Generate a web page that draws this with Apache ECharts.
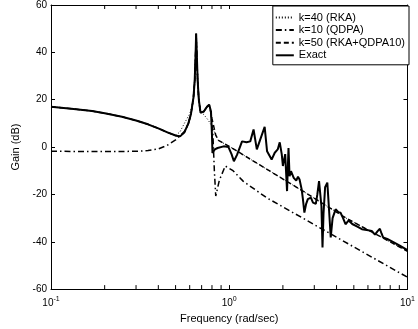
<!DOCTYPE html>
<html>
<head>
<meta charset="utf-8">
<script src="https://cdn.jsdelivr.net/npm/echarts@6/dist/echarts.min.js"></script>
<style>
  html, body { margin: 0; padding: 0; background: #fff; }
  #chart { width: 418px; height: 329px; }
</style>
</head>
<body>
<div id="chart"></div>
<script>
// Bode magnitude of the model and its reduced-order approximations: [frequency (rad/sec), gain (dB)]
const seriesNames = ['k=40 (RKA)', 'k=10 (QDPA)', 'k=50 (RKA+QDPA10)', 'Exact'];

const exactGain = [
  [0.1, 17], [0.13, 16.2], [0.17, 15.2], [0.2, 14.3], [0.25, 12.8], [0.3, 11.2],
  [0.35, 9.6], [0.4, 7.9], [0.45, 6.2], [0.5, 4.9], [0.53, 4.5], [0.56, 6.2],
  [0.59, 10], [0.61, 14], [0.63, 21], [0.64, 28], [0.648, 40], [0.652, 48],
  [0.657, 40], [0.665, 28], [0.675, 20], [0.69, 14.5], [0.72, 15], [0.75, 17],
  [0.772, 17.9], [0.79, 15], [0.8, 5], [0.805, -2.5], [0.83, -1], [0.86, -0.4],
  [0.93, 0.3], [0.99, 0], [1.03, -3], [1.062, -6], [1.107, -3.2], [1.18, 2.4],
  [1.25, 2], [1.312, 2.4], [1.369, 7.4], [1.428, -1], [1.49, 3], [1.58, 8.5],
  [1.63, -1.8], [1.729, -5.3], [1.8, -2.4], [1.87, -1], [1.92, 2], [1.97, -3],
  [2.0, -8], [2.06, -3], [2.11, -18.6], [2.15, -0.4], [2.18, -12.3], [2.22, -10.2],
  [2.3, -13], [2.376, -14.2], [2.43, -12.5], [2.48, -13.7], [2.55, -18], [2.59, -22],
  [2.64, -27.7], [2.7, -24], [2.76, -22], [2.81, -22.8], [2.87, -21.4], [2.95, -23.5],
  [3.06, -24], [3.12, -20], [3.19, -14.4], [3.25, -14], [3.29, -25], [3.336, -42.4],
  [3.38, -28], [3.45, -17], [3.55, -15], [3.62, -25], [3.71, -38.2], [3.8, -30],
  [3.95, -26.3], [4.1, -27.5], [4.21, -27.7], [4.35, -30], [4.49, -32.6], [4.68, -31],
  [4.9, -32.5], [5.2, -33.5], [5.55, -34.7], [5.9, -35], [6.3, -35.4], [6.57, -37],
  [6.8, -35.5], [7.0, -34.5], [7.15, -36.5], [7.3, -38.2], [7.7, -38.8], [8.13, -39.7],
  [9.0, -41.5], [10, -43.5]
];

const rkaGain = [
  [0.1, 17], [0.13, 16.2], [0.17, 15.2], [0.2, 14.3], [0.25, 12.8], [0.3, 11.2],
  [0.35, 9.6], [0.4, 7.9], [0.45, 6.2], [0.5, 4.8], [0.53, 6.5], [0.56, 10],
  [0.6, 14], [0.63, 19], [0.645, 35], [0.652, 48], [0.66, 35], [0.67, 22],
  [0.69, 15], [0.72, 13.7], [0.76, 11.5], [0.8, 8.8], [0.84, 5], [0.87, 2.8],
  [1.0, 0.3], [1.62, -9.3], [2.68, -19.3], [4.52, -30], [10, -44]
];

const qdpaGain = [
  [0.1, -1.8], [0.2, -1.9], [0.3, -1.8], [0.35, -1.5], [0.4, -0.8], [0.45, 0.8],
  [0.5, 3], [0.53, 4.8], [0.56, 6.5], [0.59, 10], [0.61, 14], [0.63, 21],
  [0.64, 28], [0.648, 40], [0.652, 48], [0.657, 40], [0.665, 28], [0.675, 20],
  [0.69, 14.5], [0.72, 15], [0.75, 17], [0.772, 17.9], [0.79, 14], [0.81, 5],
  [0.825, -10], [0.84, -20.7], [0.88, -14], [0.95, -8], [1.05, -10], [1.2, -14.5],
  [1.62, -21.4], [10, -55]
];

const hybridGain = [
  [0.1, 17], [0.13, 16.2], [0.17, 15.2], [0.2, 14.3], [0.25, 12.8], [0.3, 11.2],
  [0.35, 9.6], [0.4, 7.9], [0.45, 6.2], [0.5, 4.9], [0.53, 4.5], [0.56, 6.2],
  [0.59, 10], [0.61, 14], [0.63, 21], [0.64, 28], [0.648, 40], [0.652, 48],
  [0.657, 40], [0.665, 28], [0.675, 20], [0.69, 14.5], [0.72, 15], [0.75, 17],
  [0.772, 17.9], [0.8, 12], [0.84, 5], [0.87, 2.8], [1.0, 0.3], [1.62, -9.3],
  [2.68, -19.3], [4.52, -30], [10, -44]
];

// Log-axis minor tick positions (2..9 within each decade)
const minorTicks = [0.2, 0.3, 0.4, 0.5, 0.6, 0.7, 0.8, 0.9, 2, 3, 4, 5, 6, 7, 8, 9];
const xTickLabels = { '0.1': '{b|10}{s|-1}', '1': '{b|10}{s|0}', '10': '{b|10}{s|1}' };

const chart = echarts.init(document.getElementById('chart'), null, { renderer: 'canvas' });
const font = 'Liberation Sans, Arial, Helvetica, sans-serif';
const tickLen = 4;

const superRich = {
  b: { fontSize: 10, lineHeight: 16, fontFamily: font, color: '#000' },
  s: { fontSize: 7, lineHeight: 8, verticalAlign: 'top', fontFamily: font, color: '#000' }
};

function lineSeries(name, data, width, type) {
  return {
    name, type: 'line', data,
    xAxisIndex: 0, yAxisIndex: 0,
    showSymbol: false, symbol: 'none',
    lineStyle: { color: '#000', width, type },
    itemStyle: { color: '#000' },
    clip: true
  };
}

chart.setOption({
  animation: false,
  backgroundColor: '#fff',
  textStyle: { fontFamily: font },
  grid: { left: 51, right: 5, top: 5, bottom: 39, containLabel: false },
  legend: {
    data: seriesNames,
    orient: 'vertical',
    right: 9, top: 6,
    itemWidth: 18, itemHeight: 11, itemGap: 1.6,
    padding: [6, 4, 4, 2],
    borderColor: '#000', borderWidth: 1, backgroundColor: '#fff',
    itemStyle: { opacity: 0 },
    textStyle: { fontSize: 11, color: '#000', fontFamily: font },
    selectedMode: false
  },
  xAxis: [
    {
      type: 'log', logBase: 10, min: 0.1, max: 10,
      position: 'bottom',
      name: 'Frequency (rad/sec)', nameLocation: 'middle', nameGap: 19,
      nameTextStyle: { fontSize: 11, color: '#000', fontFamily: font },
      axisLine: { onZero: false, lineStyle: { color: '#000', width: 1 } },
      axisTick: { inside: true, length: tickLen, lineStyle: { color: '#000' } },
      axisLabel: {
        margin: 6, color: '#000',
        formatter: v => xTickLabels[String(+v.toPrecision(3))] || '',
        rich: superRich
      },
      splitLine: { show: false }
    },
    {
      type: 'log', logBase: 10, min: 0.1, max: 10,
      position: 'top',
      axisLine: { onZero: false, lineStyle: { color: '#000', width: 1 } },
      axisTick: { inside: true, length: tickLen, lineStyle: { color: '#000' } },
      axisLabel: { show: false },
      splitLine: { show: false }
    }
  ],
  yAxis: [
    {
      type: 'value', min: -60, max: 60, interval: 20,
      position: 'left',
      name: 'Gain (dB)', nameLocation: 'middle', nameGap: 18, nameRotate: 90,
      nameTextStyle: { fontSize: 11, color: '#000', fontFamily: font },
      axisLine: { show: true, onZero: false, lineStyle: { color: '#000', width: 1 } },
      axisTick: { show: true, inside: true, length: tickLen, lineStyle: { color: '#000' } },
      axisLabel: { margin: 4, fontSize: 10, color: '#000', fontFamily: font },
      splitLine: { show: false }
    },
    {
      type: 'value', min: -60, max: 60, interval: 20,
      position: 'right',
      axisLine: { show: true, onZero: false, lineStyle: { color: '#000', width: 1 } },
      axisTick: { show: true, inside: true, length: tickLen, lineStyle: { color: '#000' } },
      axisLabel: { show: false },
      splitLine: { show: false }
    }
  ],
  series: [
    lineSeries(seriesNames[0], rkaGain, 1, [1, 2]),
    lineSeries(seriesNames[1], qdpaGain, 1.5, [6, 3, 1.5, 3]),
    lineSeries(seriesNames[2], hybridGain, 1.5, [5, 3]),
    lineSeries(seriesNames[3], exactGain, 2, 'solid'),
    {
      // minor ticks on the bottom and top log axes
      type: 'custom',
      xAxisIndex: 0, yAxisIndex: 0,
      silent: true,
      data: minorTicks.map(v => [v, 0]),
      encode: { x: 0, y: 1 },
      renderItem: (params, api) => {
        const v = api.value(0);
        const b = api.coord([v, -60]);
        const t = api.coord([v, 60]);
        const st = { stroke: '#000', lineWidth: 1 };
        return {
          type: 'group',
          children: [
            { type: 'line', shape: { x1: b[0], y1: b[1], x2: b[0], y2: b[1] - tickLen }, style: st },
            { type: 'line', shape: { x1: t[0], y1: t[1], x2: t[0], y2: t[1] + tickLen }, style: st }
          ]
        };
      }
    }
  ]
});
</script>
</body>
</html>
